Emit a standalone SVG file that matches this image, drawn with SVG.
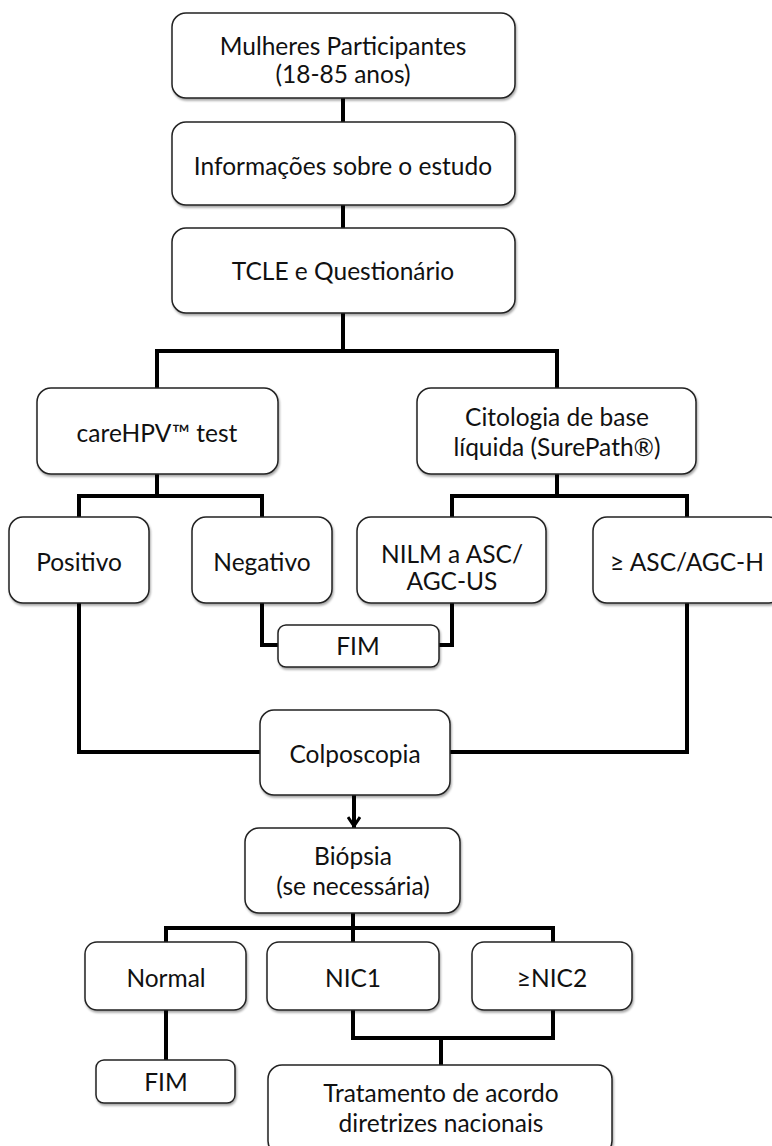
<svg xmlns="http://www.w3.org/2000/svg" width="772" height="1146" viewBox="0 0 772 1146">
<defs>
<filter id="sh" x="-10%" y="-10%" width="120%" height="130%">
<feDropShadow dx="1" dy="2" stdDeviation="1.2" flood-color="#000" flood-opacity="0.35"/>
</filter>
<marker id="arr" markerWidth="14" markerHeight="14" refX="12" refY="7" orient="auto" markerUnits="userSpaceOnUse" viewBox="0 0 14 14">
<polyline points="3,1 12,7 3,13" fill="none" stroke="#000" stroke-width="3"/>
</marker>
</defs>
<style>
.box{fill:#fff;stroke:#222;stroke-width:1.5;filter:url(#sh)}
.t{font-family:Lato,"Liberation Sans",sans-serif;font-size:24.5px;fill:#111;text-anchor:middle}
.c{fill:none;stroke:#000;stroke-width:4;stroke-linejoin:miter;stroke-linecap:square}
</style>
<rect width="772" height="1146" fill="#fff"/>
<g id="connectors">
<path class="c" d="M343 98V122M343 205V228M343 313V351"/>
<path class="c" d="M157 388V351H557V388"/>
<path class="c" d="M157 474V496M79 517V496H262V517"/>
<path class="c" d="M557 474V496M452 517V496H687V517"/>
<path class="c" d="M79 603V752H260"/>
<path class="c" d="M687 603V752H450"/>
<path class="c" d="M262 603V645H278"/>
<path class="c" d="M452 603V645H439"/>
<path class="c" d="M354 796V826" marker-end="url(#arr)" stroke-linecap="butt"/>
<path class="c" d="M353 913V928M166 942V928H553V942M353 928V942"/>
<path class="c" d="M166 1010V1060"/>
<path class="c" d="M353 1010V1038H553V1010M441 1038V1065"/>
</g>
<g id="n1"><rect class="box" x="172" y="13" width="343" height="85" rx="14"/><text class="t" x="343" y="55">Mulheres Participantes</text><text class="t" x="343" y="83">(18-85 anos)</text></g>
<g id="n2"><rect class="box" x="172" y="122" width="343" height="83" rx="14"/><text class="t" x="343" y="175">Informações sobre o estudo</text></g>
<g id="n3"><rect class="box" x="172" y="228" width="343" height="85" rx="14"/><text class="t" x="343" y="280">TCLE e Questionário</text></g>
<g id="n4"><rect class="box" x="37" y="388" width="241" height="86" rx="14"/><text class="t" x="157" y="442">careHPV™ test</text></g>
<g id="n5"><rect class="box" x="417" y="388" width="279" height="86" rx="14"/><text class="t" x="557" y="426">Citologia de base</text><text class="t" x="557" y="456">líquida (SurePath®)</text></g>
<g id="n6"><rect class="box" x="9" y="517" width="140" height="86" rx="14"/><text class="t" x="79" y="571">Positivo</text></g>
<g id="n7"><rect class="box" x="192" y="517" width="140" height="86" rx="14"/><text class="t" x="262" y="571">Negativo</text></g>
<g id="n8"><rect class="box" x="357" y="517" width="189" height="86" rx="14"/><text class="t" x="452" y="563">NILM a ASC/</text><text class="t" x="452" y="590">AGC-US</text></g>
<g id="n9"><rect class="box" x="593" y="517" width="190" height="86" rx="14"/><text class="t" x="687" y="571">≥ ASC/AGC-H</text></g>
<g id="n10"><rect class="box" x="278" y="625" width="161" height="42" rx="8"/><text class="t" x="358" y="655">FIM</text></g>
<g id="n11"><rect class="box" x="260" y="710" width="190" height="85" rx="14"/><text class="t" x="355" y="763">Colposcopia</text></g>
<g id="n12"><rect class="box" x="245" y="828" width="215" height="85" rx="14"/><text class="t" x="353" y="865">Biópsia</text><text class="t" x="353" y="895">(se necessária)</text></g>
<g id="n13"><rect class="box" x="85" y="942" width="161" height="68" rx="12"/><text class="t" x="166" y="987">Normal</text></g>
<g id="n14"><rect class="box" x="267" y="942" width="172" height="68" rx="12"/><text class="t" x="353" y="987">NIC1</text></g>
<g id="n15"><rect class="box" x="472" y="942" width="160" height="68" rx="12"/><text class="t" x="552" y="987">≥NIC2</text></g>
<g id="n16"><rect class="box" x="96" y="1060" width="139" height="43" rx="8"/><text class="t" x="166" y="1091">FIM</text></g>
<g id="n17"><rect class="box" x="268" y="1065" width="344" height="90" rx="14"/><text class="t" x="441" y="1102">Tratamento de acordo</text><text class="t" x="441" y="1132">diretrizes nacionais</text></g>
</svg>
